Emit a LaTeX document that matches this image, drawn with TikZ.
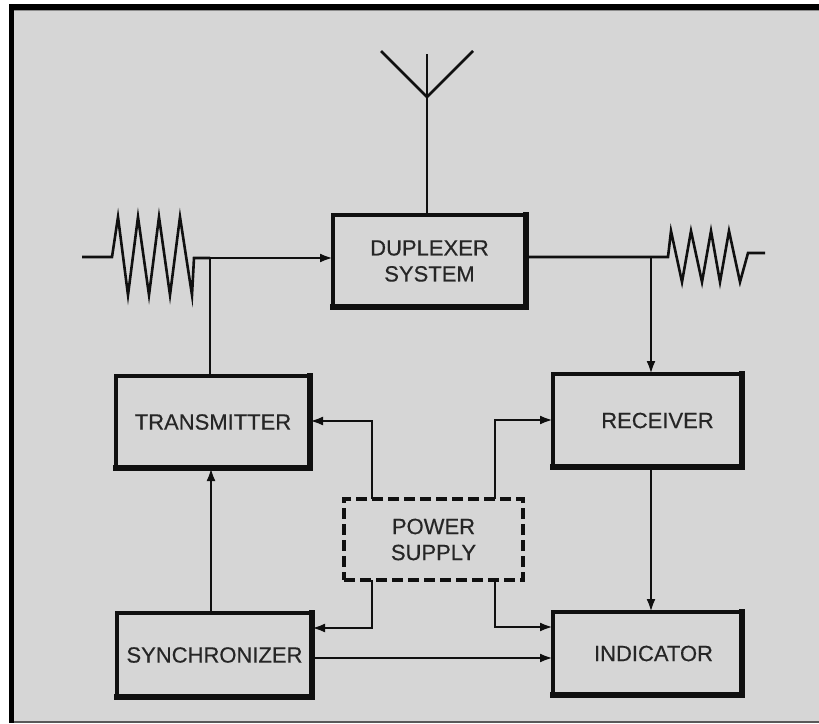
\documentclass[tikz,border=0pt]{standalone}
\usepackage{fontspec}
\setmainfont{Liberation Sans}[FakeBold=0.4]
\usetikzlibrary{arrows.meta}
\definecolor{bg}{HTML}{D6D6D6}
\definecolor{ink}{HTML}{101010}
\definecolor{txt}{HTML}{262626}
\begin{document}
\begin{tikzpicture}[x=1pt,y=-1pt,
  blk/.style={draw=ink, line width=3.2pt, outer sep=0pt, inner sep=0pt, text=txt,
    font=\fontsize{22}{26}\selectfont, align=center},
  psbox/.style={blk, dash pattern=on 11pt off 5pt, line width=3.4pt},
  heavy/.style={draw=ink, line width=6pt, line cap=rect},
  wire/.style={draw=ink, line width=2.6pt, line join=miter},
  arr/.style={wire, -{Latex[length=13pt,width=9pt]}},
]
\useasboundingbox (0,0) rectangle (819,723);
% frame
\fill[white] (0,0) rectangle (819,723);
\fill[bg] (14,10) rectangle (819,721);
\fill[black] (9,4) rectangle (819,10);
\fill[black] (9,4) rectangle (14,723);
\fill[black!65] (14,721) rectangle (819,723);
\fill[black!45] (14,10) rectangle (819,11);

% blocks
\node[blk, minimum width=193pt, minimum height=92pt] (dup) at (429.5,261) {DUPLEXER\\SYSTEM};
\node[blk, minimum width=194pt, minimum height=92pt] (tx) at (213,422) {TRANSMITTER};
\node[blk, minimum width=189pt, minimum height=93pt] (rx) at (647.5,420.5) {\hspace*{20pt}RECEIVER};
\node[blk, minimum width=189pt, minimum height=83pt] (ind) at (647.5,653.5) {\hspace*{12pt}INDICATOR};
\node[blk, minimum width=195pt, minimum height=84pt] (sync) at (214.5,655) {SYNCHRONIZER};
\node[psbox, minimum width=179pt, minimum height=81pt] (pwr) at (433.5,539.5) {POWER\\SUPPLY};

\foreach \n in {dup,tx,rx,ind,sync}
  \draw[heavy] (\n.south west) -- (\n.south east) -- (\n.north east);

% antenna
\coordinate (av) at (427,97);
\coordinate (at1) at (381,51);
\coordinate (at2) at (473,51);
\coordinate (atop) at (427,54);
\draw[wire] (at1) -- (av) -- (at2);
\draw[wire] (atop) -- (dup.north -| av);

% left input with zigzag
\coordinate (lin) at (82,257);
\coordinate (ljn) at (210,258);
\draw[wire] (lin) -- (112,257) -- (118,217) -- (128,295) -- (138,217) -- (149,295)
  -- (159,217) -- (170,295) -- (180,217) -- (192,295) -- (194,258) -- (ljn);
\draw[arr] (ljn) -- (ljn -| dup.west);
\draw[wire] (ljn) -- (ljn |- tx.north);

% right output with zigzag
\coordinate (rjn) at (651,257);
\coordinate (rout) at (765,253);
\draw[wire] (dup.east |- rjn) -- (rjn) -- (668,257) -- (671,231) -- (682,282) -- (691,231)
  -- (702,282) -- (711,231) -- (720,282) -- (729,231) -- (740,282) -- (748,253) -- (rout);
\draw[arr] (rjn) -- (rjn |- rx.north);
\draw[arr] (rjn |- rx.south) -- (rjn |- ind.north);

% synchronizer to transmitter
\coordinate (cx) at (211,540);
\draw[arr] (cx |- sync.north) -- (cx |- tx.south);

% power supply feeds
\coordinate (pl) at (372,421);
\coordinate (pr) at (495,420);
\coordinate (ql) at (372,628);
\coordinate (qr) at (495,627);
\draw[arr] (pl |- pwr.north) -- (pl) -- (pl -| tx.east);
\draw[arr] (pr |- pwr.north) -- (pr) -- (pr -| rx.west);
\draw[arr] (ql |- pwr.south) -- (ql) -- (ql -| sync.east);
\draw[arr] (qr |- pwr.south) -- (qr) -- (qr -| ind.west);

% synchronizer to indicator
\coordinate (sy) at (400,658);
\draw[arr] (sy -| sync.east) -- (sy -| ind.west);
\end{tikzpicture}
\end{document}
